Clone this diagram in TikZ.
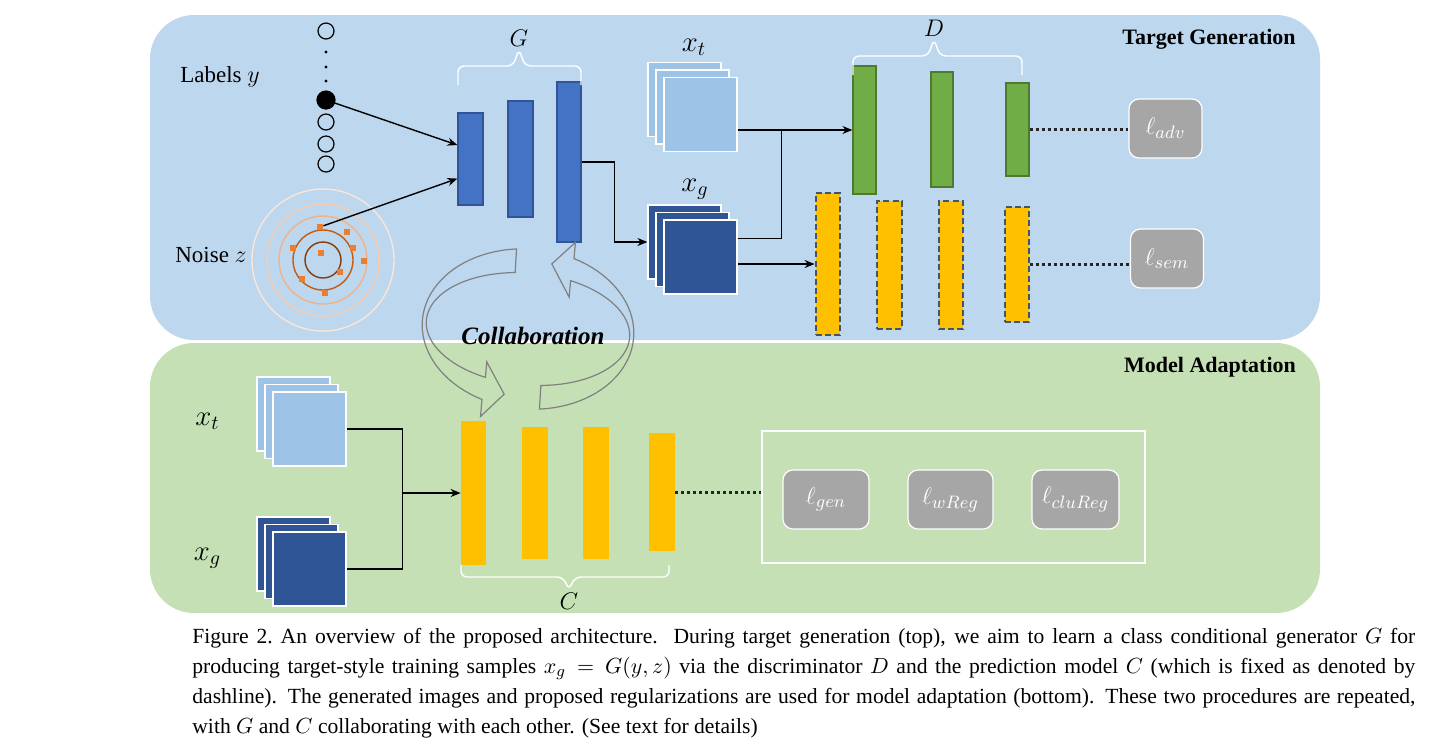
\documentclass[tikz,border=0pt]{standalone}
\usepackage{fontspec}
\setmainfont{Liberation Serif}
\usetikzlibrary{arrows.meta,calc,positioning}
\definecolor{panelblue}{HTML}{BDD7EE}
\definecolor{panelgreen}{HTML}{C5E0B4}
\definecolor{xtfill}{HTML}{9DC3E6}
\definecolor{xgfill}{HTML}{2F5597}
\definecolor{gfill}{HTML}{4472C4}
\definecolor{gedge}{HTML}{2F5597}
\definecolor{dfill}{HTML}{70AD47}
\definecolor{dedge}{HTML}{4E7A2E}
\definecolor{cfill}{HTML}{FFC000}
\definecolor{sedge}{HTML}{44546A}
\definecolor{lossgray}{HTML}{A6A6A6}
\definecolor{collabgray}{HTML}{808080}
\definecolor{ringa}{HTML}{FBE5D6}
\definecolor{ringb}{HTML}{F8CBAD}
\definecolor{ringc}{HTML}{F4B183}
\definecolor{ringd}{HTML}{C55A11}
\definecolor{ringe}{HTML}{843C0C}
\definecolor{noiseorange}{HTML}{ED7D31}
\tikzset{
  arr/.style={-{Stealth[length=5pt,width=4pt]}, line width=0.7pt},
  ln/.style={line width=0.7pt},
  dots/.style={line width=1.5pt, dash pattern=on 1.5pt off 1.5pt, black!85},
  gbar/.style={draw=gedge, fill=gfill, line width=0.6pt},
  dbar/.style={draw=dedge, fill=dfill, line width=0.6pt},
  sbar/.style={draw=sedge, fill=cfill, line width=1.4pt, dash pattern=on 3pt off 1.6pt},
  cbar/.style={fill=cfill},
  sheet/.style={draw=white, line width=0.6pt, minimum width=36.5pt, minimum height=37pt},
  ycirc/.style={circle, draw, line width=0.6pt, minimum size=8pt},
  nsq/.style={fill=noiseorange, minimum size=3pt},
  lossbox/.style={draw=white, fill=lossgray, rounded corners=5pt, line width=0.6pt,
    text=white, font=\fontsize{13}{15}\selectfont},
  brc/.style={draw=white, line width=0.7pt, rounded corners=3pt},
  lbl/.style={font=\fontsize{11.5}{13}\selectfont},
  mathlbl/.style={font=\fontsize{14}{16}\selectfont},
  ttl/.style={font=\bfseries\fontsize{11}{13}\selectfont},
  collab/.style={draw=collabgray, line width=0.6pt}
}
\newcommand{\sheetstack}[3]{%
  \node[sheet, fill=#3] (#1-b) at ($(#2)+(-16,-15)$) {};
  \node[sheet, fill=#3] (#1-m) at ($(#2)+(-8,-7.5)$) {};
  \node[sheet, fill=#3] (#1) at (#2) {};
}
\begin{document}
\begin{tikzpicture}[x=0.5pt,y=-0.5pt]
    \tikzstyle{every node}+=[inner sep=0pt]
    \useasboundingbox (0,0) rectangle (1440,752);
    \fill[white] (0,0) rectangle (1440,752);
    \fill[panelblue, rounded corners=22pt] (150,15) rectangle (1320,340);
    \fill[panelgreen, rounded corners=22pt] (150,343) rectangle (1320,613);
    \node[ttl] (tgtitle) at (1209,39) {Target Generation};
    \node[ttl] (matitle) at (1210,367) {Model Adaptation};
    \node[lbl] (labtxt) at (220,77) {Labels $y$};
    \node[lbl] (noisetxt) at (211,255) {Noise $z$};
    \foreach \i/\yy in {1/31,5/122,6/144,7/164} \node[ycirc] (lab\i) at (326,\yy) {};
    \foreach \yy in {52,67,81} \fill (326,\yy) circle (1.6);
    \node[ycirc, fill=black, minimum size=9pt] (ysel) at (326,100) {};
    \foreach \r/\cc in {71/ringa,56/ringb,44/ringc,30/ringd,18/ringe} \draw[\cc, line width=0.7pt] (323,260) circle (\r);
    \foreach \n/\xx/\yy in {1/320/227,2/347/232,3/293/248,4/353/248,5/364/261,6/321/253,7/340/272,8/302/279,9/325/293} \node[nsq] (nz\n) at (\xx,\yy) {};
    \node[gbar, minimum width=12.5pt, minimum height=46pt] (g1) at (470.5,159) {};
    \node[gbar, minimum width=12.5pt, minimum height=58pt] (g2) at (520.5,159) {};
    \node[gbar, minimum width=12pt, minimum height=80pt] (g3) at (569,162) {};
    \draw[brc] (458,85) -- (458,66) -- (513,66) -- (519,49) -- (525,66) -- (581,66) -- (581,85);
    \node[mathlbl, font=\fontsize{12.5}{14}\selectfont] (glbl) at (519,38) {$G$};
    \draw[arr] (ysel) -- ($(g1.north west)!0.35!(g1.south west)$);
    \draw[arr] (nz1) -- ($(g1.north west)!0.71!(g1.south west)$);
    \sheetstack{xt1}{700.5,114.5}{xtfill}
    \sheetstack{xg1}{700.5,257}{xgfill}
    \node[mathlbl] (xt1lbl) at (694,47) {$x_t$};
    \node[mathlbl] (xg1lbl) at (695,189) {$x_g$};
    \node[dbar, minimum width=11.5pt, minimum height=64pt] (d1) at (864.5,130) {};
    \node[dbar, minimum width=11pt, minimum height=57.5pt] (d2) at (942,129.5) {};
    \node[dbar, minimum width=11.5pt, minimum height=46.5pt] (d3) at (1017.5,129.5) {};
    \draw[brc] (853,75) -- (853,56) -- (928,56) -- (934,39) -- (940,56) -- (1022,56) -- (1022,75);
    \node[mathlbl, font=\fontsize{12.5}{14}\selectfont] (dlbl) at (934,28) {$D$};
    \node[sbar, minimum width=12pt, minimum height=71pt] (s1) at (828,264) {};
    \node[sbar, minimum width=12.5pt, minimum height=64pt] (s2) at (889.5,265) {};
    \node[sbar, minimum width=12pt, minimum height=64pt] (s3) at (951,265) {};
    \node[sbar, minimum width=12pt, minimum height=57.5pt] (s4) at (1017,264.5) {};
    \node[lossbox, minimum width=36.5pt, minimum height=29.5pt] (ladv) at (1165.5,128.5) {$\ell_{adv}$};
    \node[lossbox, minimum width=36.5pt, minimum height=29.5pt] (lsem) at (1167,258.5) {$\ell_{sem}$};
    \draw[arr] (g3.east) -- ++(33,0) |- (xg1-b.west);
    \coordinate (djoin) at ($(d1.west)+(-71,0)$);
    \draw[arr] (xt1.east |- d1.west) -- (d1.west);
    \draw[ln] ($(xg1.north east)!0.25!(xg1.south east)$) -| (djoin);
    \draw[arr] (xg1.east |- s1.west) -- (s1.west);
    \draw[dots] (d3.east) -- (d3.east -| ladv.west);
    \draw[dots] (s4.east) -- (s4.east -| lsem.west);
    \sheetstack{xt2}{309.5,429}{xtfill}
    \sheetstack{xg2}{309.5,569}{xgfill}
    \node[mathlbl] (xt2lbl) at (207.5,421) {$x_t$};
    \node[mathlbl] (xg2lbl) at (207.5,558) {$x_g$};
    \node[cbar, minimum width=12.5pt, minimum height=72pt] (c1) at (473.5,493) {};
    \node[cbar, minimum width=13pt, minimum height=66pt] (c2) at (535,493) {};
    \node[cbar, minimum width=13pt, minimum height=66pt] (c3) at (596,493) {};
    \node[cbar, minimum width=13pt, minimum height=59pt] (c4) at (662,492) {};
    \draw[brc] (669,565) -- (669,577) -- (575,577) -- (569,590) -- (563,577) -- (461,577) -- (461,565);
    \node[mathlbl, font=\fontsize{12.5}{14}\selectfont] (clbl) at (569,601) {$C$};
    \coordinate (cjoin) at ($(c1.west)+(-58,0)$);
    \draw[ln] (xt2.east) -| (cjoin);
    \draw[ln] (xg2.east) -| (cjoin);
    \draw[arr] (cjoin) -- (c1.west);
    \node[draw=white, line width=0.6pt, minimum width=191.5pt, minimum height=66pt] (lframe) at (953.5,497) {};
    \node[lossbox, minimum width=43pt, minimum height=29.5pt] (lgen) at (826,499.5) {$\ell_{gen}$};
    \node[lossbox, minimum width=42.5pt, minimum height=29.5pt] (lwreg) at (950.5,499.5) {$\ell_{wReg}$};
    \node[lossbox, minimum width=43.5pt, minimum height=29.5pt] (lclureg) at (1075.5,499.5) {$\ell_{cluReg}$};
    \draw[dots] (c4.east) -- (c4.east -| lframe.west);
    \begin{scope}[shift={(528,329)}, rotate=-5]
      \draw[collab] plot[domain=260:112, samples=40] ({106*cos(\x)},{80*sin(\x)})
        -- ({106*cos(112)},{1.23*80*sin(112)}) -- ({104*cos(100)},{68*sin(100)})
        -- ({102*cos(112)},{0.7*56*sin(112)})
        -- plot[domain=112:260, samples=40] ({102*cos(\x)},{56*sin(\x)}) -- cycle;
      \draw[collab] plot[domain=80:-68, samples=40] ({106*cos(\x)},{80*sin(\x)})
        -- ({106*cos(-68)},{1.22*80*sin(-68)}) -- ({104*cos(-80)},{68*sin(-80)})
        -- ({102*cos(-68)},{0.68*56*sin(-68)})
        -- plot[domain=-68:80, samples=40] ({102*cos(\x)},{56*sin(\x)}) -- cycle;
    \end{scope}
    \node[font=\bfseries\itshape\fontsize{12.5}{14}\selectfont] (collabtxt) at (533,336) {Collaboration};
    \node[anchor=north west, text width=611.5pt, align=justify, font=\fontsize{10.8}{15}\selectfont] (caption) at (192,628) {Figure 2.\ An overview of the proposed architecture.\ \ During target generation (top), we aim to learn a class conditional generator $G$ for\linebreak producing target-style training samples $x_g = G(y,z)$ via the discriminator $D$ and the prediction model $C$ (which is fixed as denoted by\linebreak dashline). The generated images and proposed regularizations are used for model adaptation (bottom). These two procedures are repeated,\linebreak with $G$ and $C$ collaborating with each other. (See text for details)};
\end{tikzpicture}
\end{document}
